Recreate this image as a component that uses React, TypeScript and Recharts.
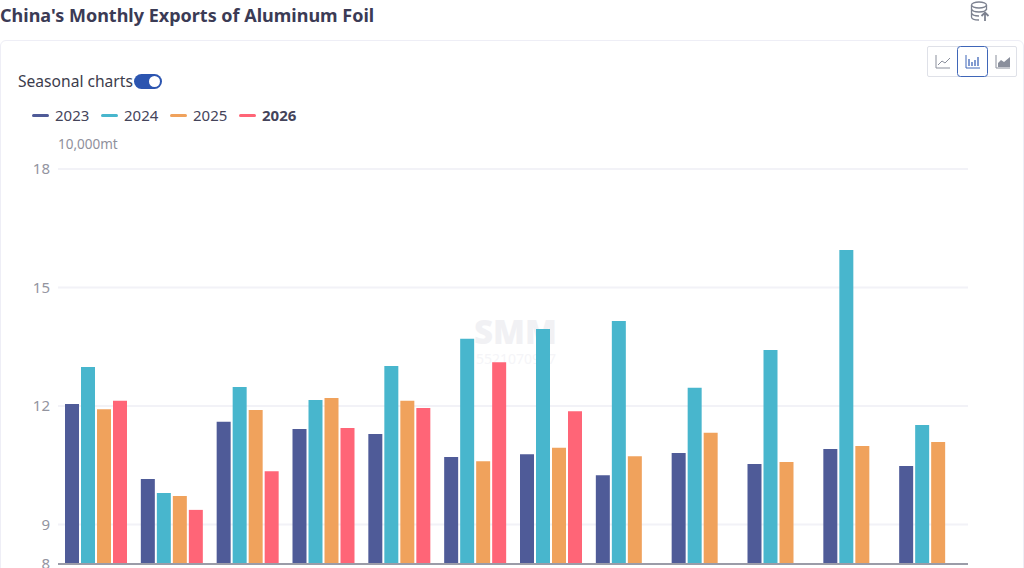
import { BarChart, Bar, XAxis, YAxis, CartesianGrid, Legend } from 'recharts';

const months = ["Jan", "Feb", "Mar", "Apr", "May", "Jun", "Jul", "Aug", "Sep", "Oct", "Nov", "Dec"];
const v2023 = [12.05, 10.15, 11.6, 11.42, 11.29, 10.71, 10.78, 10.25, 10.81, 10.53, 10.91, 10.48];
const v2024 = [12.99, 9.8, 12.48, 12.15, 13.01, 13.7, 13.95, 14.15, 12.46, 13.42, 15.95, 11.52];
const v2025 = [11.92, 9.72, 11.9, 12.2, 12.13, 10.6, 10.94, 10.73, 11.32, 10.58, 10.99, 11.09];
const v2026 = [12.13, 9.37, 10.35, 11.44, 11.95, 13.11, 11.87, null, null, null, null, null];
const yTicks = [8, 9, 12, 15, 18];
const seriesNames = ["2023", "2024", "2025", "2026"];
const seriesColors = ["#4f5b98", "#48b6cd", "#f0a25c", "#ff6577"];

const data = months.map((m, i) => ({ m, "2023": v2023[i], "2024": v2024[i], "2025": v2025[i], "2026": v2026[i] }));

const FONT = "'Noto Sans', sans-serif";

function LegendRow() {
  return (
    <div style={{ display: "flex", fontFamily: FONT, fontSize: 15, color: "#44445a", lineHeight: "20px" }}>
      {seriesNames.map((name, i) => (
        <div key={name} style={{ width: 69, display: "flex", alignItems: "center", fontWeight: name === "2026" ? 700 : 400 }}>
          <span style={{ width: 17, height: 3, borderRadius: 2, background: seriesColors[i], marginRight: 6 }} />
          {name}
        </div>
      ))}
    </div>
  );
}

function Toolbar() {
  const stroke = "#8a8f9c";
  return (
    <div style={{ position: "absolute", left: 927, top: 46, width: 90, height: 31, border: "1px solid #dfe1e8", borderRadius: 2, boxSizing: "border-box" }}>
      <svg width="90" height="31" style={{ position: "absolute", left: -1, top: -1 }}>
        <rect x="30.5" y="0.5" width="30" height="30" rx="3" fill="#fff" stroke="#3f66b8" />
        <path d="M9 9 V22 H23" fill="none" stroke={stroke} />
        <path d="M11 19 L15 15 L18 17 L23 12" fill="none" stroke={stroke} />
        <path d="M39 9 V22 H53" fill="none" stroke="#3f66b8" />
        <path d="M42 20 V13 M45 20 V16 M48 20 V14 M51 20 V11" fill="none" stroke="#3f66b8" strokeWidth="1.3" />
        <path d="M69 9 V22 H83" fill="none" stroke={stroke} />
        <path d="M71 21 V17 L74 14 L77 16 L83 11 V21 Z" fill={stroke} />
      </svg>
    </div>
  );
}

export default function App() {
  return (
    <div style={{ position: "absolute", left: 0, top: 0, width: 1024, height: 568, overflow: "hidden", background: "#fff" }}>
      <div style={{ position: "absolute", left: 0, top: 2, fontFamily: FONT, fontSize: 18, fontWeight: 700, color: "#3b3b55", lineHeight: "26px", whiteSpace: "nowrap" }}>
        China's Monthly Exports of Aluminum Foil
      </div>
      <svg width="24" height="24" style={{ position: "absolute", left: 969, top: 0 }} fill="none" stroke="#7d8290" strokeWidth="1.3">
        <ellipse cx="10" cy="5" rx="7.5" ry="3" />
        <path d="M2.5 5 V17 C2.5 19 6 20 10 20 M17.5 5 V10 M2.5 9 C3 11 7 12 10 12 C13 12 17 11 17.5 9 M2.5 13 C3 15 7 16 10 16" />
        <path d="M16 21 V12.5 M12.5 16 L16 12.5 L19.5 16" strokeWidth="1.8" />
      </svg>
      <div style={{ position: "absolute", left: 0, top: 40, width: 1024, height: 560, border: "1px solid #eeeef6", borderRadius: 6, boxSizing: "border-box" }} />
      <Toolbar />
      <div style={{ position: "absolute", left: 18, top: 71, fontFamily: FONT, fontSize: 15.6, color: "#3c3c4c", lineHeight: "20px" }}>Seasonal charts</div>
      <div style={{ position: "absolute", left: 134, top: 74, width: 28, height: 15, borderRadius: 8, background: "#2c55b0" }}>
        <div style={{ position: "absolute", left: 15, top: 2, width: 11, height: 11, borderRadius: 6, background: "#fff" }} />
      </div>
      <div style={{ position: "absolute", left: 58, top: 135, fontFamily: FONT, fontSize: 13.5, color: "#8f909c", lineHeight: "18px" }}>10,000mt</div>
      <div style={{ position: "absolute", left: 474, top: 316, fontFamily: FONT, fontSize: 33, fontWeight: 900, color: "#f1f1f4", lineHeight: "32px" }}>SMM</div>
      <div style={{ position: "absolute", left: 468, top: 350, fontFamily: FONT, fontSize: 14, color: "#f5f5f8", lineHeight: "18px" }}>15521070917</div>
      <BarChart
        width={1024}
        height={620}
        data={data}
        barSize={14}
        barGap={2}
        margin={{ top: 169, right: 56, bottom: 26, left: 0 }}
        style={{ position: "absolute", left: 0, top: 0 }}
      >
        <CartesianGrid vertical={false} stroke="#f2f2f7" strokeWidth={2} />
        <XAxis dataKey="m" height={30} axisLine={{ stroke: "#9b9ca8", strokeWidth: 2 }} tickLine={false} tick={false} />
        <YAxis
          width={58}
          domain={[8, 18]}
          ticks={yTicks}
          interval={0}
          axisLine={false}
          tickLine={false}
          tickMargin={2}
          tick={{ fill: "#93949f", fontSize: 15, fontFamily: FONT }}
        />
        <Legend layout="horizontal" verticalAlign="middle" align="center" wrapperStyle={{ left: 32, top: 105, width: 300, height: 20 }} content={<LegendRow />} />
        {seriesNames.map((name, i) => (
          <Bar key={name} dataKey={name} fill={seriesColors[i]} isAnimationActive={false} />
        ))}
      </BarChart>
    </div>
  );
}
